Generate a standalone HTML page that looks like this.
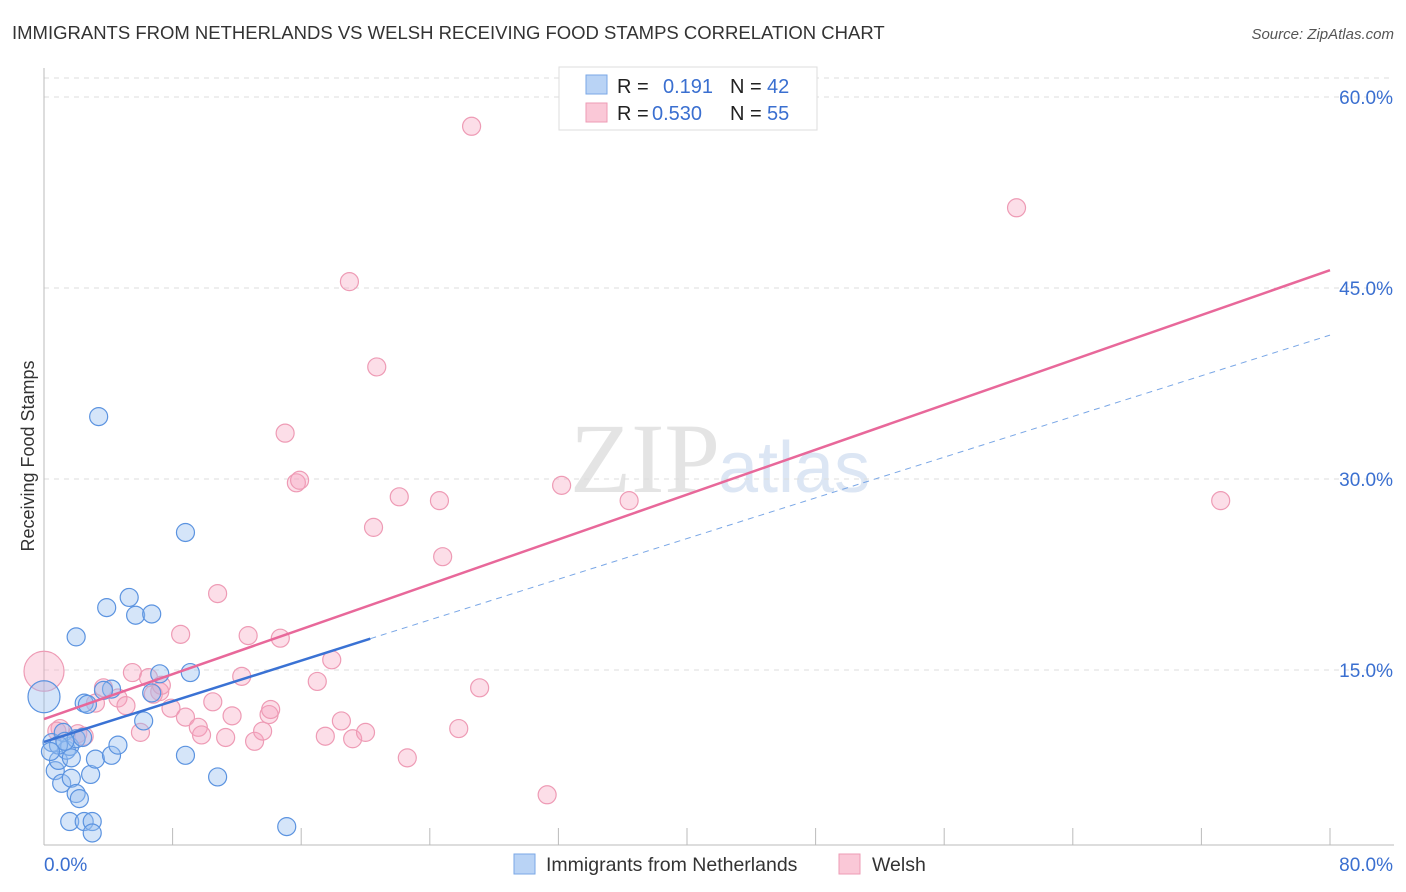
<!DOCTYPE html>
<html><head><meta charset="utf-8"><style>
body{margin:0;background:#fff;font-family:"Liberation Sans",sans-serif;}
#wrap{position:relative;width:1406px;height:892px;overflow:hidden}
</style></head><body><div id="wrap">
<svg id="svg" width="1406" height="892" xmlns="http://www.w3.org/2000/svg" font-family="Liberation Sans, sans-serif">
<text x="12" y="39" font-size="18.5" fill="#333">IMMIGRANTS FROM NETHERLANDS VS WELSH RECEIVING FOOD STAMPS CORRELATION CHART</text>
<text x="1394" y="39" font-size="15" fill="#555" font-style="italic" text-anchor="end">Source: ZipAtlas.com</text>
<text x="34" y="456" font-size="18" fill="#333" text-anchor="middle" transform="rotate(-90 34 456)">Receiving Food Stamps</text>
<text x="720" y="492" font-size="100" fill="#e4e4e4" text-anchor="end" font-family="Liberation Serif, serif">ZIP</text>
<text x="718" y="492" font-size="72" fill="#dce6f4">atlas</text>
<g id="grid"></g><g id="marks"></g>
<g>
<rect x="559" y="67" width="258" height="63" fill="#fff" stroke="#ddd"/>
<rect x="586" y="75" width="21" height="19" fill="#b9d3f5" stroke="#7aa7e6"/>
<rect x="586" y="103" width="21" height="19" fill="#fac8d7" stroke="#ee9bb5"/>
<text x="617" y="93" font-size="20" fill="#222">R = </text><text x="663" y="93" font-size="20" fill="#3a6fd0">0.191</text>
<text x="730" y="93" font-size="20" fill="#222">N = </text><text x="767" y="93" font-size="20" fill="#3a6fd0">42</text>
<text x="617" y="120" font-size="20" fill="#222">R = </text><text x="652" y="120" font-size="20" fill="#3a6fd0">0.530</text>
<text x="730" y="120" font-size="20" fill="#222">N = </text><text x="767" y="120" font-size="20" fill="#3a6fd0">55</text>
</g>
<g>
<rect x="514" y="854" width="21" height="20" fill="#b9d3f5" stroke="#7aa7e6"/>
<text x="546" y="871" font-size="19.5" fill="#333">Immigrants from Netherlands</text>
<rect x="839" y="854" width="21" height="20" fill="#fac8d7" stroke="#ee9bb5"/>
<text x="872" y="871" font-size="19.5" fill="#333">Welsh</text>
</g>
</svg></div>
<script>
const xTickVals=[0,8,16,24,32,40,48,56,64,72,80];
const yTickVals=[15,30,45,60];
const blueX=[0,3.4,8.8,3.9,5.3,5.7,6.7,2.0,0.5,0.7,0.9,1.4,1.6,1.7,1.1,1.7,2.0,2.2,2.9,2.5,2.7,3.2,4.2,4.6,6.2,7.2,6.7,9.1,8.8,10.8,1.6,2.5,3.0,3.0,15.1,4.2,3.7,1.2,0.9,2.0,2.4,1.3,0.4];
const blueY=[12.9,34.9,25.8,19.9,20.7,19.3,19.4,17.6,9.3,7.1,7.9,8.7,9.0,8.1,6.1,6.5,5.3,4.9,6.8,12.4,12.3,8.0,8.3,9.1,11.0,14.7,13.2,14.8,8.3,6.6,3.1,3.1,3.1,2.2,2.7,13.5,13.4,10.1,9.1,9.6,9.7,9.4,8.6];
const pinkX=[26.6,60.5,19.0,20.7,15.0,15.7,15.9,22.1,24.6,32.2,36.4,73.2,20.5,24.8,10.8,8.5,12.7,14.7,17.9,17.0,27.1,0,12.3,5.5,6.5,3.7,7.2,4.6,5.1,3.2,7.9,8.8,10.5,11.7,14.0,9.6,9.8,11.3,13.1,13.6,6.0,2.1,2.5,1.0,0.8,17.5,18.5,19.2,20.0,25.8,22.6,31.3,14.1,6.8,7.3];
const pinkY=[57.7,51.3,45.5,38.8,33.6,29.7,29.9,28.6,28.3,29.5,28.3,28.3,26.2,23.9,21.0,17.8,17.7,17.5,15.8,14.1,13.6,14.9,14.5,14.8,14.4,13.6,13.3,12.8,12.2,12.4,12.0,11.3,12.5,11.4,11.5,10.5,9.9,9.7,9.4,10.2,10.1,10.0,9.8,10.4,10.2,9.8,11.0,9.6,10.1,10.4,8.1,5.2,11.9,13.1,13.8];
const pinkLine=[11.15,46.4];
const blueLine=[9.35,41.3];
const blueSolidEnd=20.3;
const X=v=>44+v/80*1286, Y=v=>861-v/15*191;
const NS='http://www.w3.org/2000/svg';
function mk(t,a,p){const e=document.createElementNS(NS,t);for(const k in a)e.setAttribute(k,a[k]);p.appendChild(e);return e;}
const grid=document.getElementById('grid'), marks=document.getElementById('marks');
mk('line',{x1:44,y1:78,x2:1394,y2:78,stroke:'#ddd','stroke-dasharray':'5,5'},grid);
yTickVals.forEach(v=>{
 const l=mk('line',{x1:44,y1:Y(v),x2:1394,y2:Y(v),stroke:'#ddd','stroke-dasharray':'5,5'},grid);
 
 
 const t=mk('text',{x:1393,y:Y(v)+7,'font-size':19,fill:'#3a6fd0','text-anchor':'end'},grid);t.textContent=v.toFixed(1)+'%';
 
 
});
mk('line',{x1:44,y1:68,x2:44,y2:845,stroke:'#bbb'},grid);
mk('line',{x1:44,y1:845,x2:1394,y2:845,stroke:'#bbb'},grid);
xTickVals.forEach(v=>{const l=mk('line',{x1:X(v),y1:828,x2:X(v),y2:845,stroke:'#bbb'},grid);
 
 });
[[0,'0.0%','start',44],[80,'80.0%','end',1393]].forEach(a=>{const t=mk('text',{x:a[3],y:871,'font-size':19,fill:'#3a6fd0','text-anchor':a[2]},grid);t.textContent=a[1];
 
 });
pinkX.forEach((x,i)=>{const r=(i==21)?20:9;const c=mk('circle',{cx:X(x),cy:Y(pinkY[i]),r:r,fill:'rgba(245,160,190,0.35)',stroke:'#ee9bb5','stroke-width':1.2},marks);
 
 });
blueX.forEach((x,i)=>{const r=(i==0)?16:9;const c=mk('circle',{cx:X(x),cy:Y(blueY[i]),r:r,fill:'rgba(150,190,240,0.4)',stroke:'#5b93e0','stroke-width':1.2},marks);
 
 });
const bl=v=>blueLine[0]+(blueLine[1]-blueLine[0])*v/80;
let l1=mk('line',{x1:X(blueSolidEnd),y1:Y(bl(blueSolidEnd)),x2:X(80),y2:Y(bl(80)),stroke:'#7aa7e6','stroke-width':1,'stroke-dasharray':'6,5'},marks);


let l2=mk('line',{x1:X(0),y1:Y(bl(0)),x2:X(blueSolidEnd),y2:Y(bl(blueSolidEnd)),stroke:'#3a72d4','stroke-width':2.5},marks);


let l3=mk('line',{x1:X(0),y1:Y(pinkLine[0]),x2:X(80),y2:Y(pinkLine[1]),stroke:'#e8689a','stroke-width':2.5},marks);


</script></body></html>
